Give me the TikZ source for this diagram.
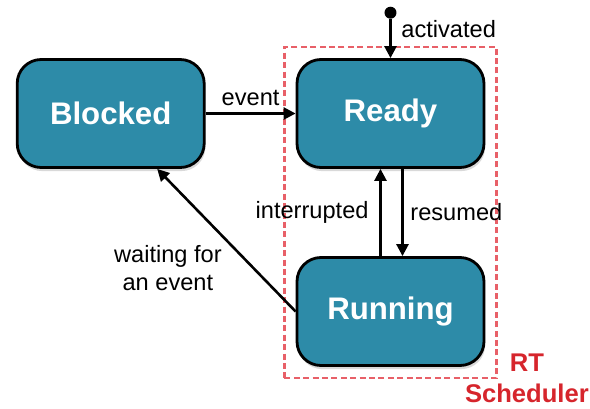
\documentclass[tikz,border=0pt]{standalone}
\usepackage{fontspec}
\setmainfont{Liberation Sans}
\usepackage{tikz}
\usetikzlibrary{positioning, arrows.meta, shadows, fit}
\definecolor{statefill}{RGB}{45,139,168}
\definecolor{schedline}{RGB}{232,96,104}
\definecolor{schedtext}{RGB}{214,37,44}

\tikzset{
	task/.style={draw=black, line width=1.4pt, fill=statefill, rounded corners=12pt,
		minimum width=93.5pt, minimum height=54pt, text=white,
		font=\fontsize{15.6}{18}\selectfont\bfseries,
		drop shadow={shadow xshift=0.6pt, shadow yshift=-1.8pt, opacity=0.3}},
	arrow/.style={draw=black, line width=1.3pt, -{Triangle[length=6pt,width=6pt]}},
	lbl/.style={font=\fontsize{11.8}{14}\selectfont, align=center},
	dot/.style={circle, fill=black, minimum size=6pt, inner sep=0pt},
	sched/.style={draw=schedline, line width=1.3pt, dash pattern=on 3pt off 1.7pt},
}

\begin{document}
\begin{tikzpicture}[node distance=45pt]
		\useasboundingbox (-195.25pt,-147.25pt) rectangle (99.75pt,56.75pt);
		
		\node[task] (ready) {Ready};
		\node[task, left=of ready] (blocked) {Blocked};
		\node[task, below=43.6pt of ready] (running) {Running};
		\node[dot, above=19.5pt of ready] (start) {};
		
		% real-time scheduler region
		\node[sched, fit=(ready)(running), inner sep=5.6pt] (rt) {};
		\node[lbl, text=schedtext, font=\fontsize{12.8}{15.5}\selectfont\bfseries, inner sep=0pt]
			at ([xshift=14.5pt,yshift=0.5pt]rt.south east) {RT\\Scheduler};
		
		\draw (start) edge[arrow] node[lbl, right=1.5pt, pos=0.25]{activated} (ready) ;
		\draw (blocked) edge[arrow] node[lbl, above]{event} (ready) ;
		\draw ([xshift=6pt]ready.south) edge[arrow] node[lbl, right]{resumed} ([xshift=6pt]running.north) ;
		\draw ([xshift=-5pt]running.north) edge[arrow] node[lbl, left=2pt]{interrupted} ([xshift=-5pt]ready.south) ;
		\draw (running.west) edge[arrow] node[lbl, below left=1pt, inner sep=1pt]{waiting for\\an event} (blocked.-50) ;
	\end{tikzpicture}
\end{document}
